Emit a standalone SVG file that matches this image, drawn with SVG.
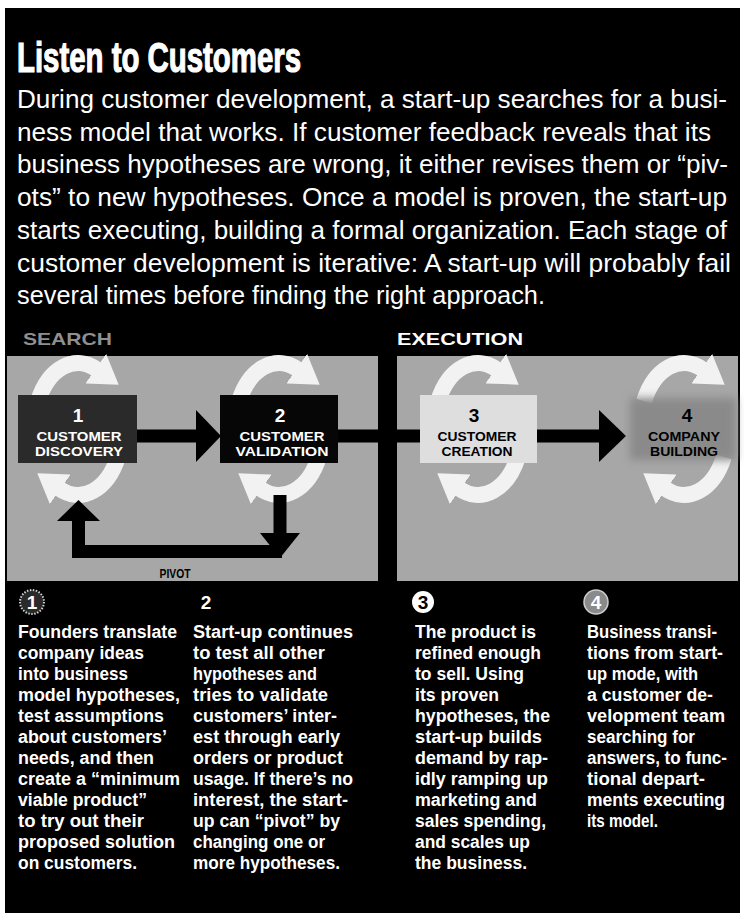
<svg xmlns="http://www.w3.org/2000/svg" width="744" height="913" viewBox="0 0 744 913">
<style>
.t{font-family:"Liberation Sans",Arial,sans-serif;font-weight:bold}
.p{font-family:"Liberation Sans",Arial,sans-serif;fill:#fff;font-size:25px}
.c{font-family:"Liberation Sans",Arial,sans-serif;font-weight:bold;fill:#fff;font-size:18px}
.bl{font-family:"Liberation Sans",Arial,sans-serif;font-weight:bold;font-size:13px;text-anchor:middle}
.num{font-family:"Liberation Sans",Arial,sans-serif;font-weight:bold;font-size:19px;text-anchor:middle}
.arc{fill:none;stroke:#f2f2f2;stroke-width:16;marker-end:url(#wh)}
.ln{stroke:#000;stroke-width:13;fill:none}
.hd{fill:#000}
</style>
<defs>
<marker id="wh" markerUnits="userSpaceOnUse" markerWidth="28" markerHeight="36" viewBox="0 0 28 36" refX="1" refY="18" orient="auto"><path d="M0,0 L28,18 L0,36 z" fill="#f2f2f2"/></marker>
<filter id="blur" x="-20%" y="-20%" width="140%" height="140%"><feGaussianBlur stdDeviation="4"/></filter>
</defs>
<rect x="0" y="0" width="744" height="913" fill="#fff"/>
<rect x="5" y="8" width="735" height="905" fill="#000"/>
<g id="header">
<text class="t" x="17" y="72" font-size="43" fill="#fff" stroke="#fff" stroke-width="1.2" textLength="284" lengthAdjust="spacingAndGlyphs">Listen to Customers</text>
<text class="p" x="17" y="108" textLength="710" lengthAdjust="spacingAndGlyphs">During customer development, a start-up searches for a busi-</text>
<text class="p" x="17" y="140.7" textLength="694" lengthAdjust="spacingAndGlyphs">ness model that works. If customer feedback reveals that its</text>
<text class="p" x="17" y="173.4" textLength="711" lengthAdjust="spacingAndGlyphs">business hypotheses are wrong, it either revises them or “piv-</text>
<text class="p" x="17" y="206.1" textLength="710" lengthAdjust="spacingAndGlyphs">ots” to new hypotheses. Once a model is proven, the start-up</text>
<text class="p" x="17" y="238.8" textLength="710" lengthAdjust="spacingAndGlyphs">starts executing, building a formal organization. Each stage of</text>
<text class="p" x="17" y="271.5" textLength="714" lengthAdjust="spacingAndGlyphs">customer development is iterative: A start-up will probably fail</text>
<text class="p" x="17" y="304.2" textLength="528" lengthAdjust="spacingAndGlyphs">several times before finding the right approach.</text>
</g>
<g id="sections">
<text class="t" x="23" y="345" font-size="17" fill="#8f8f8f" textLength="89" lengthAdjust="spacingAndGlyphs">SEARCH</text>
<text class="t" x="397" y="345" font-size="17" fill="#fff" textLength="126" lengthAdjust="spacingAndGlyphs">EXECUTION</text>
<rect x="7" y="356" width="371" height="225" fill="#a7a7a7"/>
<rect x="397" y="356" width="341" height="225" fill="#a7a7a7"/>
</g>
<g id="cycles">
<path class="arc" d="M38.1 401.1 A44 66 0 0 1 96.6 369.2"/>
<path class="arc" d="M117.9 456.9 A44 66 0 0 1 59.4 488.8"/>
<path class="arc" d="M239.1 401.1 A44 66 0 0 1 297.6 369.2"/>
<path class="arc" d="M318.9 456.9 A44 66 0 0 1 260.4 488.8"/>
<path class="arc" d="M438.1 401.1 A44 66 0 0 1 496.6 369.2"/>
<path class="arc" d="M517.9 456.9 A44 66 0 0 1 459.4 488.8"/>
<path class="arc" d="M644.1 401.1 A44 66 0 0 1 702.6 369.2"/>
<path class="arc" d="M723.9 456.9 A44 66 0 0 1 665.4 488.8"/>
</g>
<g id="connectors">
<line class="ln" x1="137" y1="436" x2="200" y2="436"/>
<polygon class="hd" points="196,410 221,436 196,462"/>
<line class="ln" x1="338" y1="436" x2="421" y2="436"/>
<line class="ln" x1="537" y1="436" x2="603" y2="436"/>
<polygon class="hd" points="599,410 626,436 599,462"/>
<line class="ln" x1="280" y1="495" x2="280" y2="537"/>
<polygon class="hd" points="260,533 300,533 280,558"/>
<path class="ln" d="M78.5 518 V551.5 H282" stroke-linejoin="miter"/>
<polygon class="hd" points="57,521 100,521 78.5,500"/>
<text class="bl" x="175" y="578" font-size="14" fill="#000" textLength="31" lengthAdjust="spacingAndGlyphs">PIVOT</text>
</g>
<g id="node-1">
<rect x="18" y="395" width="119" height="68" fill="#2a2a2a"/>
<text class="num" x="78" y="422" fill="#fff">1</text>
<text class="bl" x="79" y="441" fill="#fff" textLength="85" lengthAdjust="spacingAndGlyphs">CUSTOMER</text>
<text class="bl" x="79" y="456" fill="#fff" textLength="88" lengthAdjust="spacingAndGlyphs">DISCOVERY</text>
</g>
<g id="node-2">
<rect x="220" y="395" width="118" height="68" fill="#060606"/>
<text class="num" x="280" y="422" fill="#fff">2</text>
<text class="bl" x="282" y="441" fill="#fff" textLength="85" lengthAdjust="spacingAndGlyphs">CUSTOMER</text>
<text class="bl" x="282" y="456" fill="#fff" textLength="93" lengthAdjust="spacingAndGlyphs">VALIDATION</text>
</g>
<g id="node-3">
<rect x="420" y="395" width="117" height="68" fill="#dedede"/>
<text class="num" x="474" y="422" fill="#000">3</text>
<text class="bl" x="477" y="441" fill="#000" textLength="79" lengthAdjust="spacingAndGlyphs">CUSTOMER</text>
<text class="bl" x="477" y="456" fill="#000" textLength="71" lengthAdjust="spacingAndGlyphs">CREATION</text>
</g>
<g id="node-4">
<rect x="630" y="398" width="106" height="62" fill="#8a8a8a" filter="url(#blur)"/>
<text class="num" x="687" y="422" fill="#000">4</text>
<text class="bl" x="684" y="441" fill="#000" textLength="72" lengthAdjust="spacingAndGlyphs">COMPANY</text>
<text class="bl" x="684" y="456" fill="#000" textLength="68" lengthAdjust="spacingAndGlyphs">BUILDING</text>
</g>
<g id="col-1">
<circle cx="32" cy="602" r="12" fill="#2a2a2a" stroke="#cfcfcf" stroke-width="2" stroke-dasharray="1.5 1.5"/>
<text class="num" x="32" y="609" font-size="18" fill="#fff">1</text>
<text class="c" x="18" y="637.5" textLength="159" lengthAdjust="spacingAndGlyphs">Founders translate</text>
<text class="c" x="18" y="658.5" textLength="126" lengthAdjust="spacingAndGlyphs">company ideas</text>
<text class="c" x="18" y="679.5" textLength="110" lengthAdjust="spacingAndGlyphs">into business</text>
<text class="c" x="18" y="700.5" textLength="162" lengthAdjust="spacingAndGlyphs">model hypotheses,</text>
<text class="c" x="18" y="721.5" textLength="146" lengthAdjust="spacingAndGlyphs">test assumptions</text>
<text class="c" x="18" y="742.5" textLength="149" lengthAdjust="spacingAndGlyphs">about customers’</text>
<text class="c" x="18" y="763.5" textLength="136" lengthAdjust="spacingAndGlyphs">needs, and then</text>
<text class="c" x="18" y="784.5" textLength="162" lengthAdjust="spacingAndGlyphs">create a “minimum</text>
<text class="c" x="18" y="805.5" textLength="129" lengthAdjust="spacingAndGlyphs">viable product”</text>
<text class="c" x="18" y="826.5" textLength="126" lengthAdjust="spacingAndGlyphs">to try out their</text>
<text class="c" x="18" y="847.5" textLength="157" lengthAdjust="spacingAndGlyphs">proposed solution</text>
<text class="c" x="18" y="868.5" textLength="119" lengthAdjust="spacingAndGlyphs">on customers.</text>
</g>
<g id="col-2">
<text class="num" x="206" y="609" font-size="18" fill="#fff">2</text>
<text class="c" x="193" y="637.5" textLength="160" lengthAdjust="spacingAndGlyphs">Start-up continues</text>
<text class="c" x="193" y="658.5" textLength="132" lengthAdjust="spacingAndGlyphs">to test all other</text>
<text class="c" x="193" y="679.5" textLength="124" lengthAdjust="spacingAndGlyphs">hypotheses and</text>
<text class="c" x="193" y="700.5" textLength="135" lengthAdjust="spacingAndGlyphs">tries to validate</text>
<text class="c" x="193" y="721.5" textLength="144" lengthAdjust="spacingAndGlyphs">customers’ inter-</text>
<text class="c" x="193" y="742.5" textLength="147" lengthAdjust="spacingAndGlyphs">est through early</text>
<text class="c" x="193" y="763.5" textLength="150" lengthAdjust="spacingAndGlyphs">orders or product</text>
<text class="c" x="193" y="784.5" textLength="160" lengthAdjust="spacingAndGlyphs">usage. If there’s no</text>
<text class="c" x="193" y="805.5" textLength="155" lengthAdjust="spacingAndGlyphs">interest, the start-</text>
<text class="c" x="193" y="826.5" textLength="147" lengthAdjust="spacingAndGlyphs">up can “pivot” by</text>
<text class="c" x="193" y="847.5" textLength="132" lengthAdjust="spacingAndGlyphs">changing one or</text>
<text class="c" x="193" y="868.5" textLength="147" lengthAdjust="spacingAndGlyphs">more hypotheses.</text>
</g>
<g id="col-3">
<circle cx="423" cy="602" r="11" fill="#fff"/>
<text class="num" x="423" y="608.5" font-size="16" fill="#000">3</text>
<text class="c" x="415" y="637.5" textLength="121" lengthAdjust="spacingAndGlyphs">The product is</text>
<text class="c" x="415" y="658.5" textLength="126" lengthAdjust="spacingAndGlyphs">refined enough</text>
<text class="c" x="415" y="679.5" textLength="109" lengthAdjust="spacingAndGlyphs">to sell. Using</text>
<text class="c" x="415" y="700.5" textLength="84" lengthAdjust="spacingAndGlyphs">its proven</text>
<text class="c" x="415" y="721.5" textLength="135" lengthAdjust="spacingAndGlyphs">hypotheses, the</text>
<text class="c" x="415" y="742.5" textLength="127" lengthAdjust="spacingAndGlyphs">start-up builds</text>
<text class="c" x="415" y="763.5" textLength="133" lengthAdjust="spacingAndGlyphs">demand by rap-</text>
<text class="c" x="415" y="784.5" textLength="133" lengthAdjust="spacingAndGlyphs">idly ramping up</text>
<text class="c" x="415" y="805.5" textLength="122" lengthAdjust="spacingAndGlyphs">marketing and</text>
<text class="c" x="415" y="826.5" textLength="131" lengthAdjust="spacingAndGlyphs">sales spending,</text>
<text class="c" x="415" y="847.5" textLength="115" lengthAdjust="spacingAndGlyphs">and scales up</text>
<text class="c" x="415" y="868.5" textLength="112" lengthAdjust="spacingAndGlyphs">the business.</text>
</g>
<g id="col-4">
<circle cx="596" cy="602" r="12" fill="#8a8a8a" stroke="#cfcfcf" stroke-width="1.5"/>
<text class="num" x="596" y="608.5" font-size="16" fill="#fff">4</text>
<text class="c" x="587" y="637.5" textLength="130" lengthAdjust="spacingAndGlyphs">Business transi-</text>
<text class="c" x="587" y="658.5" textLength="136" lengthAdjust="spacingAndGlyphs">tions from start-</text>
<text class="c" x="587" y="679.5" textLength="111" lengthAdjust="spacingAndGlyphs">up mode, with</text>
<text class="c" x="587" y="700.5" textLength="126" lengthAdjust="spacingAndGlyphs">a customer de-</text>
<text class="c" x="587" y="721.5" textLength="138" lengthAdjust="spacingAndGlyphs">velopment team</text>
<text class="c" x="587" y="742.5" textLength="108" lengthAdjust="spacingAndGlyphs">searching for</text>
<text class="c" x="587" y="763.5" textLength="140" lengthAdjust="spacingAndGlyphs">answers, to func-</text>
<text class="c" x="587" y="784.5" textLength="118" lengthAdjust="spacingAndGlyphs">tional depart-</text>
<text class="c" x="587" y="805.5" textLength="138" lengthAdjust="spacingAndGlyphs">ments executing</text>
<text class="c" x="587" y="826.5" textLength="71" lengthAdjust="spacingAndGlyphs">its model.</text>
</g>
</svg>
